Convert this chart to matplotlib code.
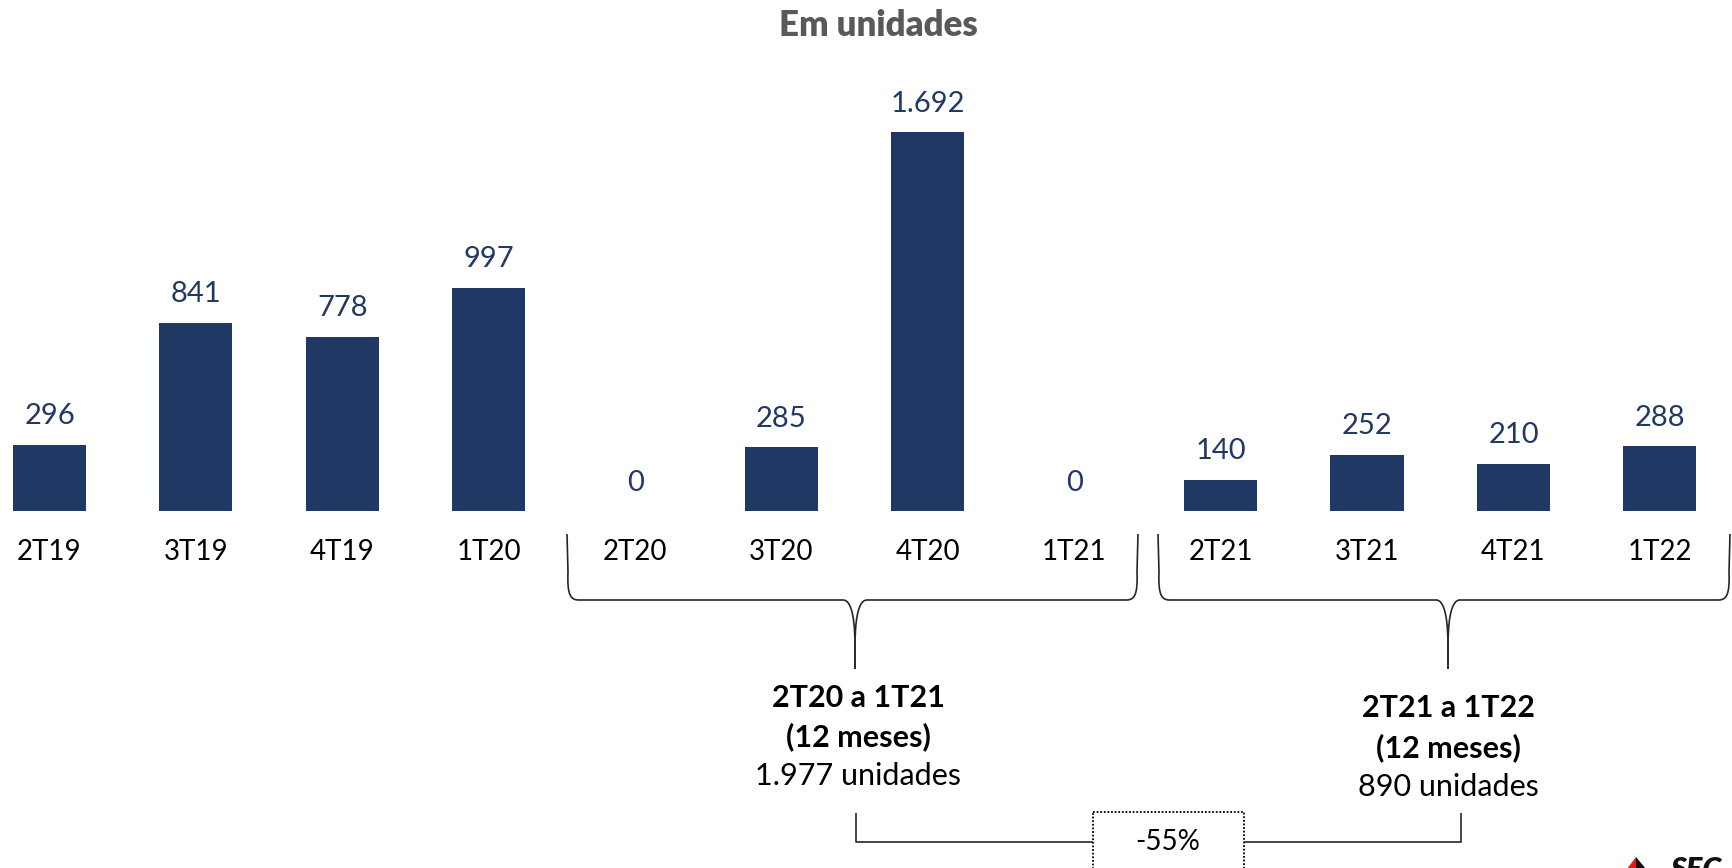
import matplotlib
matplotlib.use("Agg")
import matplotlib.pyplot as plt
from matplotlib.path import Path
from matplotlib.patches import PathPatch, Polygon, Rectangle

# ---- data ----
categories = ["2T19", "3T19", "4T19", "1T20", "2T20", "3T20", "4T20", "1T21",
              "2T21", "3T21", "4T21", "1T22"]
values = [296, 841, 778, 997, 0, 285, 1692, 0, 140, 252, 210, 288]
value_labels = ["296", "841", "778", "997", "0", "285", "1.692", "0",
                "140", "252", "210", "288"]
title = "Em unidades"
group1_lines = ["2T20 a 1T21", "(12 meses)", "1.977 unidades"]
group2_lines = ["2T21 a 1T22", "(12 meses)", "890 unidades"]
change_label = "-55%"

plt.rcParams['font.family'] = ['Lato', 'DejaVu Sans']

W, H = 1733, 868
fig = plt.figure(figsize=(W / 100, H / 100), dpi=100)

BAR = "#203864"

# main bar axes (full figure, limits chosen to place bars)
ax = fig.add_axes([0, 0, 1, 1])
pitch = 146.4
x0 = 49.5
ax.set_xlim(-x0 / pitch, (W - x0) / pitch)
ppu = 379 / 1692.0
base = 511
ax.set_ylim(-(H - base) / ppu, base / ppu)
ax.axis("off")

xs = list(range(len(categories)))
ax.bar(xs, values, width=0.5, color=BAR, zorder=2)
for x, v, lab in zip(xs, values, value_labels):
    ax.annotate(lab, (x, v), xytext=(0, 20.5), textcoords="offset points",
                ha="center", va="center", fontsize=21, color=BAR)
    ax.annotate(categories[x], (x, 0), xytext=(0, -29.5), textcoords="offset points",
                ha="center", va="center", fontsize=20, color="#000000")

# overlay axes in pixel coordinates
ov = fig.add_axes([0, 0, 1, 1], facecolor="none")
ov.set_xlim(0, W)
ov.set_ylim(H, 0)
ov.axis("off")

ov.text(878, 26, title, ha="center", va="center", fontsize=25,
        fontweight="heavy", color="#595959")

LC = "#262626"
LW = 1.2


def brace(L, R, C, top, h, tip, mid=647):
    for side in (L, R):
        s = 1 if side == L else -1
        verts = [(side, top), (side + s * 1, h - 28),
                 (side, h - 4), (side + s * 4, h), (side + s * 12, h),
                 (C - s * 12, h),
                 (C - s * 2, h), (C, h + 25), (C, mid),
                 (C, tip)]
        codes = [Path.MOVETO, Path.LINETO,
                 Path.CURVE4, Path.CURVE4, Path.CURVE4,
                 Path.LINETO,
                 Path.CURVE4, Path.CURVE4, Path.CURVE4,
                 Path.LINETO]
        ov.add_patch(PathPatch(Path(verts, codes), fill=False, lw=LW, ec=LC))


brace(567, 1138, 855, 534, 600, 669)
brace(1158, 1730, 1448, 534, 600, 669)

for i, t in enumerate(group1_lines):
    ov.text(858, 698 + 39 * i, t, ha="center", va="center", fontsize=22,
            fontweight="bold" if i < 2 else "normal", color="#000000")
for i, t in enumerate(group2_lines):
    ov.text(1448, 708 + 39.5 * i, t, ha="center", va="center", fontsize=22,
            fontweight="bold" if i < 2 else "normal", color="#000000")

# connector between groups
ov.plot([856, 856, 1093], [813, 842, 842], color=LC, lw=LW, solid_capstyle="butt")
ov.plot([1244, 1461, 1461], [842, 842, 813], color=LC, lw=LW, solid_capstyle="butt")
ov.add_patch(Rectangle((1093, 812), 151, 80, fill=False, ec="#000000", lw=1.3,
                       ls=(0, (1, 1))))
ov.text(1168, 842, change_label, ha="center", va="center", fontsize=20,
        color="#000000")

# partial logo in bottom-right corner
ov.add_patch(Polygon([(1627, 869), (1636, 857), (1636, 869)], closed=True,
                     fc="#e3171b", ec="none"))
ov.add_patch(Polygon([(1636, 857), (1646, 869), (1636, 869)], closed=True,
                     fc="#111111", ec="none"))
ov.text(1670, 856, "SEC", ha="left", va="top", fontsize=22, fontweight="heavy",
        fontstyle="italic", color="#111111")

fig.savefig("out.png", dpi=100)
